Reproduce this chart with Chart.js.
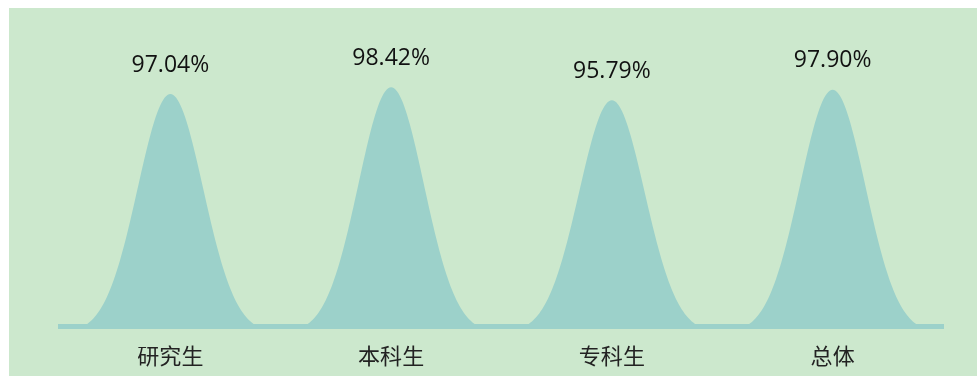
<!DOCTYPE html>
<html lang="zh-CN">
<head>
<meta charset="utf-8">
<title>满意度</title>
<script src="https://cdn.jsdelivr.net/npm/chart.js@4.4.1/dist/chart.umd.min.js"></script>
<style>
    html, body { margin: 0; padding: 0; background: #ffffff; }
    #chartBox {
        position: absolute;
        left: 9px;
        top: 8px;
        width: 968px;
        height: 368px;
        background: #cce8cd;
    }
</style>
</head>
<body>
<div id="chartBox"><canvas id="bellChart"></canvas></div>
<script>
// Chart data
const categories = ['研究生', '本科生', '专科生', '总体'];
const rates = [97.04, 98.42, 95.79, 97.90];
const axisMin = 50;
const axisMax = 100;

// Colours
const peakColor = '#9cd1ca';
const labelColor = '#111111';

// Bell profile, 1 at the centre and 0 at the edge of the bar
function bellProfile(u) {
    const tail = Math.exp(-3.55);
    return (Math.exp(-3.55 * u * u) - tail) / (1 - tail);
}

// Draws each bar as a bell shape with its value above it
const bellPlugin = {
    id: 'bellShapes',
    afterDatasetsDraw(chart) {
        const ctx = chart.ctx;
        const meta = chart.getDatasetMeta(0);
        const base = chart.scales.y.getPixelForValue(axisMin);
        ctx.save();
        meta.data.forEach(function(bar, i) {
            const p = bar.getProps(['x', 'y', 'width'], true);
            const half = p.width / 2;
            const h = base - p.y;

            ctx.beginPath();
            ctx.moveTo(p.x - half, base);
            for (let s = 0; s <= 120; s++) {
                const u = -1 + s / 60;
                ctx.lineTo(p.x + u * half, base - h * bellProfile(u));
            }
            ctx.closePath();
            ctx.fillStyle = peakColor;
            ctx.fill();

            ctx.fillStyle = labelColor;
            ctx.font = '23px "Open Sans"';
            ctx.textAlign = 'center';
            ctx.textBaseline = 'middle';
            ctx.fillText(rates[i].toFixed(2) + '%', p.x, p.y - 29);
        });
        ctx.restore();
    }
};

new Chart(document.getElementById('bellChart'), {
    type: 'bar',
    data: {
        labels: categories,
        datasets: [{
            data: rates,
            backgroundColor: 'rgba(0,0,0,0)',
            borderWidth: 0,
            categoryPercentage: 1,
            barPercentage: 0.79
        }]
    },
    options: {
        responsive: true,
        maintainAspectRatio: false,
        animation: false,
        layout: {
            padding: { left: 51, right: 34, top: 71.5, bottom: 0 }
        },
        plugins: {
            legend: { display: false },
            tooltip: { enabled: false }
        },
        scales: {
            x: {
                grid: { display: false, drawTicks: false },
                border: { display: true, color: peakColor, width: 5 },
                ticks: {
                    color: '#222222',
                    padding: 16,
                    font: { family: '"Noto Sans CJK SC"', size: 22 }
                },
                afterFit: function(scale) {
                    scale.height = 49.5;
                }
            },
            y: {
                display: false,
                min: axisMin,
                max: axisMax
            }
        }
    },
    plugins: [bellPlugin]
});
</script>
</body>
</html>
